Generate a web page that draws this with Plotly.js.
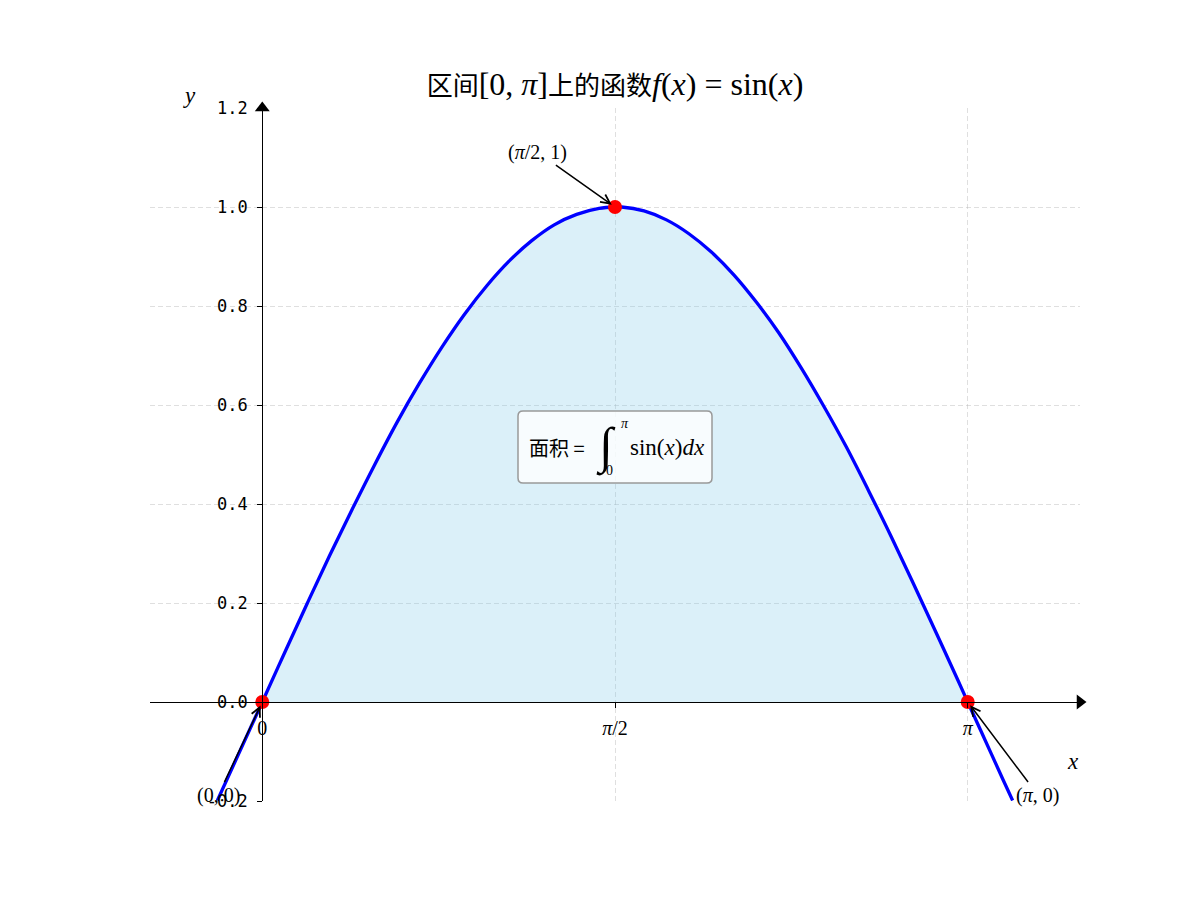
<!DOCTYPE html>
<html><head><meta charset="utf-8">
<script src="https://cdn.plot.ly/plotly-3.0.1.min.js"></script>
<style>body{margin:0;background:#fff}</style>
</head><body>
<div id="chart" style="width:1200px;height:900px"></div>
<script>
// curve samples of f(x) = sin(x)
const curveX = [-0.2, 0, 0.1, 0.2, 0.3, 0.4, 0.5, 0.6, 0.7, 0.8, 0.9, 1.0, 1.1, 1.2, 1.3, 1.4, 1.5, 1.5708, 1.6, 1.7, 1.8, 1.9, 2.0, 2.1, 2.2, 2.3, 2.4, 2.5, 2.6, 2.7, 2.8, 2.9, 3.0, 3.1, 3.1416, 3.2, 3.3, 3.3416];
const curveY = [-0.199, 0, 0.100, 0.199, 0.296, 0.389, 0.479, 0.565, 0.644, 0.717, 0.783, 0.841, 0.891, 0.932, 0.964, 0.985, 0.997, 1.000, 1.000, 0.992, 0.974, 0.946, 0.909, 0.863, 0.808, 0.746, 0.675, 0.598, 0.516, 0.427, 0.335, 0.239, 0.141, 0.042, 0, -0.058, -0.158, -0.199];
// key points
const keyX = [0, 1.5708, 3.1416];
const keyY = [0, 1, 0];
const keyLabels = ["(0, 0)", "(<i>π</i>/2, 1)", "(<i>π</i>, 0)"];
const keyTextX = [-0.196, 1.226, 3.454];
const keyTextY = [-0.188, 1.111, -0.188];
// ticks
const xTickVals = [0, 1.5708, 3.1416];
const xTickText = ["0", "<i>π</i>/2", "<i>π</i>"];
const yTickVals = [-0.2, 0, 0.2, 0.4, 0.6, 0.8, 1.0, 1.2];
const yTickText = ["-0.2", "0.0", "0.2", "0.4", "0.6", "0.8", "1.0", "1.2"];
const xRange = [-0.5, 3.1416 + 0.5];
const yRange = [-0.2, 1.2];

const SERIF = "Liberation Serif";
const CJK = "Noto Sans CJK SC";

// fill region [0, π]
const fillX = [], fillY = [];
curveX.forEach((x, i) => { if (x >= 0 && x <= 3.1416) { fillX.push(x); fillY.push(curveY[i]); } });

const traces = [
  {x: fillX, y: fillY, type: 'scatter', mode: 'lines', fill: 'tozeroy',
   fillcolor: 'rgba(135,206,235,0.3)', line: {width: 0, shape: 'spline', smoothing: 1}, hoverinfo: 'skip'},
  {x: curveX, y: curveY, type: 'scatter', mode: 'lines', line: {color: 'blue', width: 3.3, shape: 'spline', smoothing: 1}},
  {x: keyX, y: keyY, type: 'scatter', mode: 'markers', cliponaxis: false,
   marker: {color: 'red', size: 14}},
  {x: [0, xRange[1]], y: [yRange[1], 0], type: 'scatter', mode: 'markers', cliponaxis: false,
   marker: {color: 'black', size: 13, symbol: ['triangle-up', 'triangle-right']}, hoverinfo: 'skip'}
];

const annotations = [];
keyX.forEach((x, i) => {
  annotations.push({x: x, y: keyY[i], xref: 'x', yref: 'y', ax: keyTextX[i], ay: keyTextY[i],
    axref: 'x', ayref: 'y', text: keyLabels[i], showarrow: true, arrowhead: 5, arrowsize: 1.2,
    arrowwidth: 1.5, arrowcolor: 'black', standoff: 4,
    font: {family: SERIF, size: 20, color: 'black'}});
});
// axis labels
annotations.push({x: 3.61, y: -0.121, xref: 'x', yref: 'y', text: '<i>x</i>', showarrow: false,
  font: {family: SERIF, size: 23, color: 'black'}});
annotations.push({x: (189 - 150) / 930, y: (801 - 96) / 693, xref: 'paper', yref: 'paper',
  xanchor: 'center', yanchor: 'middle', text: '<i>y</i>', showarrow: false,
  font: {family: SERIF, size: 23, color: 'black'}});
// area text box pieces
const boxX = 1.5708, boxY = 0.515;
annotations.push({x: boxX, y: boxY, xref: 'x', yref: 'y', xshift: -58, text: '面积 =', showarrow: false,
  font: {family: CJK, size: 20, color: 'black'}});
annotations.push({x: boxX, y: boxY, xref: 'x', yref: 'y', xshift: -9, yshift: 1, text: '∫', showarrow: false,
  font: {family: SERIF, size: 50, color: 'black'}});
annotations.push({x: boxX, y: boxY, xref: 'x', yref: 'y', xshift: 9.5, yshift: 24, text: '<i>π</i>', showarrow: false,
  font: {family: SERIF, size: 14, color: 'black'}});
annotations.push({x: boxX, y: boxY, xref: 'x', yref: 'y', xshift: -5.5, yshift: -23, text: '0', showarrow: false,
  font: {family: SERIF, size: 14, color: 'black'}});
annotations.push({x: boxX, y: boxY, xref: 'x', yref: 'y', xshift: 52, yshift: 0,
  text: 'sin(<i>x</i>)<i>dx</i>', showarrow: false,
  font: {family: SERIF, size: 23, color: 'black'}});

const shapes = [{
  type: 'path', layer: 'above', xref: 'x', yref: 'y', xsizemode: 'pixel', ysizemode: 'pixel',
  xanchor: boxX, yanchor: boxY,
  path: 'M -92,-36 L 92,-36 Q 97,-36 97,-31 L 97,31 Q 97,36 92,36 L -92,36 Q -97,36 -97,31 L -97,-31 Q -97,-36 -92,-36 Z',
  fillcolor: 'rgba(255,255,255,0.8)', line: {color: '#999999', width: 1.5}
}];

const MATH = 'font-family:Liberation Serif;font-size:32px';
const layout = {
  width: 1200, height: 900,
  margin: {l: 150, r: 120, t: 108, b: 99},
  paper_bgcolor: 'white', plot_bgcolor: 'white',
  showlegend: false,
  title: {
    text: '区间<span style="' + MATH + '">[0, <i>π</i>]</span>上的函数<span style="' + MATH + '"><i>f</i>(<i>x</i>) = sin(<i>x</i>)</span>',
    font: {family: CJK, size: 26, color: 'black'},
    x: 0.5, xref: 'paper', xanchor: 'center', y: 1 - 86 / 900, yref: 'container', yanchor: 'middle'
  },
  xaxis: {
    range: xRange, anchor: 'free', position: 0.2 / 1.4,
    tickvals: xTickVals, ticktext: xTickText,
    tickfont: {family: SERIF, size: 20, color: 'black'}, ticklabelstandoff: 3,
    ticks: 'outside', ticklen: 5, tickwidth: 1.2, tickcolor: 'black',
    showline: true, linecolor: 'black', linewidth: 1.3, zeroline: false,
    showgrid: true, gridcolor: 'rgba(176,176,176,0.4)', griddash: '5px,3px', gridwidth: 1
  },
  yaxis: {
    range: yRange, anchor: 'free', position: 0.5 / (3.1416 + 1),
    tickvals: yTickVals, ticktext: yTickText,
    tickfont: {family: 'DejaVu Sans Mono', size: 17, color: 'black'}, ticklabelstandoff: 6,
    ticks: 'outside', ticklen: 5, tickwidth: 1.2, tickcolor: 'black',
    showline: true, linecolor: 'black', linewidth: 1.3, zeroline: false,
    showgrid: true, gridcolor: 'rgba(176,176,176,0.4)', griddash: '5px,3px', gridwidth: 1
  },
  annotations: annotations,
  shapes: shapes
};

Plotly.newPlot('chart', traces, layout, {displayModeBar: false, responsive: false});
</script>
</body></html>
